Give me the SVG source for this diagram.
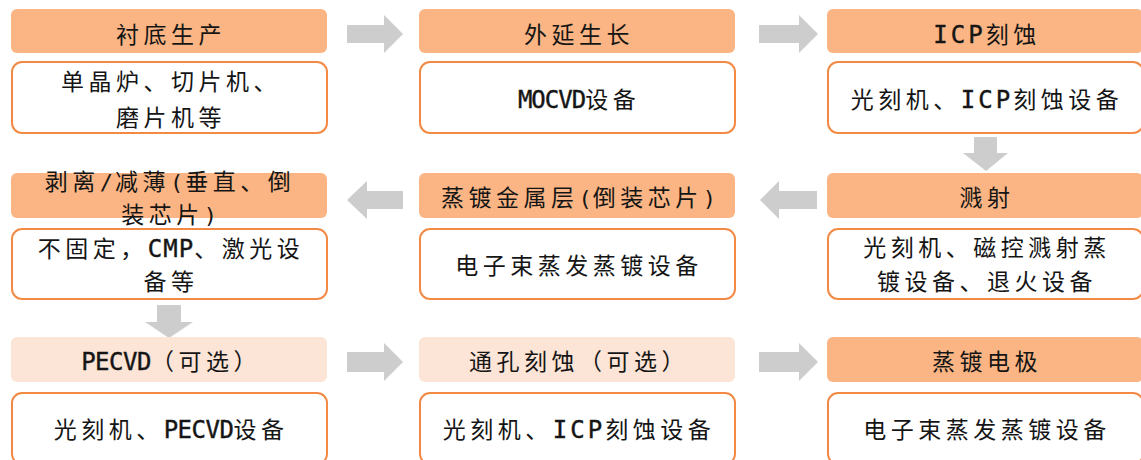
<svg xmlns="http://www.w3.org/2000/svg" width="1141" height="460" viewBox="0 0 1141 460">
<style>
.hd{fill:#FBB584}
.hl{fill:#FCE4D6}
.dt{fill:#FFFFFF;stroke:#F28A45;stroke-width:2}
.ar{fill:#CDCDCD}
text{font-family:"Noto Sans CJK SC","Noto Sans",sans-serif;font-size:23px;fill:#151515;text-anchor:middle;letter-spacing:4.5px}
.m{font-family:"DejaVu Sans Mono",monospace;font-size:24px;stroke:#151515;stroke-width:0.4px}
.p{font-family:"DejaVu Sans Mono",monospace;font-size:22px}
</style>
<rect width="1141" height="460" fill="#FFFFFF"/>
<g id="connectors">
<path class="ar" d="M347,25 H384 V15 L403,34 L384,53 V43 H347 Z"/>
<path class="ar" d="M759,25 H799 V15 L818,34 L799,53 V43 H759 Z"/>
<path class="ar" d="M974,137 H997 V153 H1008 L986,171 L963,153 H974 Z"/>
<path class="ar" d="M817,191 H779 V181 L760,200 L779,219 V209 H817 Z"/>
<path class="ar" d="M403,191 H367 V181 L347,200 L367,219 V209 H403 Z"/>
<path class="ar" d="M157,305 H181 V322 H193 L169,338 L145,322 H157 Z"/>
<path class="ar" d="M347,352 H384 V343 L403,362 L384,381 V372 H347 Z"/>
<path class="ar" d="M759,352 H799 V343 L818,362 L799,381 V372 H759 Z"/>
</g>
<g id="n1">
<rect class="hd" x="11" y="9" width="316" height="44" rx="6"/>
<text x="171" y="43">衬底生产</text>
<rect class="dt" x="12" y="62" width="315" height="71" rx="10"/>
<text x="171" y="90">单晶炉、切片机、</text>
<text x="171" y="126">磨片机等</text>
</g>
<g id="n2">
<rect class="hd" x="419" y="9" width="316" height="44" rx="6"/>
<text x="579" y="43">外延生长</text>
<rect class="dt" x="420" y="62" width="315" height="71" rx="10"/>
<text x="579" y="108"><tspan class="m" style="letter-spacing:-1px">MOCVD</tspan>设备</text>
</g>
<g id="n3">
<rect class="hd" x="827" y="9" width="316" height="44" rx="6"/>
<text x="987" y="43"><tspan class="m" style="letter-spacing:3px">ICP</tspan>刻蚀</text>
<rect class="dt" x="828" y="62" width="315" height="71" rx="10"/>
<text x="987" y="108">光刻机、<tspan class="m" style="letter-spacing:3px">ICP</tspan>刻蚀设备</text>
</g>
<g id="n4">
<rect class="hd" x="827" y="173" width="316" height="45" rx="6"/>
<text x="987" y="206">溅射</text>
<rect class="dt" x="828" y="229" width="315" height="70" rx="10"/>
<text x="987" y="256">光刻机、磁控溅射蒸</text>
<text x="987" y="290">镀设备、退火设备</text>
</g>
<g id="n5">
<rect class="hd" x="419" y="173" width="316" height="45" rx="6"/>
<text x="579" y="206">蒸镀金属层<tspan class="p" style="letter-spacing:1px">(</tspan>倒装芯片<tspan class="p" style="letter-spacing:1px">)</tspan></text>
<rect class="dt" x="420" y="229" width="315" height="70" rx="10"/>
<text x="579" y="274">电子束蒸发蒸镀设备</text>
</g>
<g id="n6">
<rect class="hd" x="11" y="173" width="316" height="45" rx="6"/>
<text x="170" y="190">剥离<tspan class="p" style="letter-spacing:2px">/</tspan>减薄<tspan class="p" style="letter-spacing:2px">(</tspan>垂直、倒</text>
<text x="170" y="223">装芯片<tspan class="p" style="letter-spacing:2px">)</tspan></text>
<rect class="dt" x="12" y="229" width="315" height="70" rx="10"/>
<text x="171" y="257">不固定，<tspan class="m" style="letter-spacing:1px">CMP</tspan>、激光设</text>
<text x="171" y="290">备等</text>
</g>
<g id="n7">
<rect class="hl" x="11" y="337" width="316" height="45" rx="6"/>
<text x="171" y="370"><tspan class="m" style="letter-spacing:-0.5px">PECVD</tspan>（可选）</text>
<rect class="dt" x="12" y="393" width="315" height="71" rx="10"/>
<text x="171" y="438">光刻机、<tspan class="m" style="letter-spacing:-0.5px">PECVD</tspan>设备</text>
</g>
<g id="n8">
<rect class="hl" x="419" y="337" width="316" height="45" rx="6"/>
<text x="579" y="370">通孔刻蚀（可选）</text>
<rect class="dt" x="420" y="393" width="315" height="71" rx="10"/>
<text x="579" y="438">光刻机、<tspan class="m" style="letter-spacing:3px">ICP</tspan>刻蚀设备</text>
</g>
<g id="n9">
<rect class="hd" x="827" y="337" width="316" height="45" rx="6"/>
<text x="987" y="370">蒸镀电极</text>
<rect class="dt" x="828" y="393" width="315" height="71" rx="10"/>
<text x="987" y="438">电子束蒸发蒸镀设备</text>
</g>
</svg>
